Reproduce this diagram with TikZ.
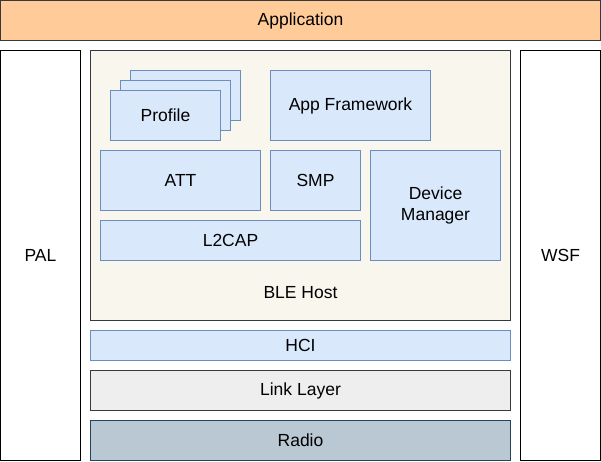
\documentclass[tikz,border=0pt]{standalone}
\usepackage{fontspec}
\setmainfont{Liberation Sans}
\definecolor{blockfill}{HTML}{DAE8FC}
\definecolor{blockline}{HTML}{6C8EBF}
\definecolor{darkline}{HTML}{36393D}
\definecolor{appfill}{HTML}{FFCC99}
\definecolor{hostfill}{HTML}{F9F7ED}
\definecolor{linkfill}{HTML}{EEEEEE}
\definecolor{radiofill}{HTML}{BAC8D3}
\definecolor{radioline}{HTML}{23445D}
\begin{document}
\begin{tikzpicture}[x=1pt,y=-1pt,
        font=\fontsize{17.5}{21}\selectfont,
        layer/.style={draw,line width=1pt,inner sep=0pt,align=center},
        block/.style={layer,draw=blockline,fill=blockfill}]
                \useasboundingbox (0,0) rectangle (601,461);
                \node[layer,draw=darkline,fill=appfill,minimum width=600pt,minimum height=40pt] (app) at (300.5,20.5) {Application};
                \node[layer,draw=black,fill=white,minimum width=80pt,minimum height=410pt] (pal) at (40.5,255.5) {PAL};
                \node[layer,draw=black,fill=white,minimum width=80pt,minimum height=410pt] (wsf) at (560.5,255.5) {WSF};
                \node[layer,draw=darkline,fill=hostfill,minimum width=420pt,minimum height=270pt] (host) at (300.5,185.5) {};
                \node (hostlabel) at (300.5,293) {BLE Host};
                \node[block,minimum width=110pt,minimum height=50pt] (profile3) at (185.5,95.5) {};
                \node[block,minimum width=110pt,minimum height=50pt] (profile2) at (175.5,105.5) {};
                \node[block,minimum width=110pt,minimum height=50pt] (profile) at (165.5,115.5) {Profile};
                \node[block,minimum width=160pt,minimum height=70pt] (appfw) at (350.5,105.5) {App Framework};
                \node[block,minimum width=160pt,minimum height=60pt] (att) at (180.5,180.5) {ATT};
                \node[block,minimum width=90pt,minimum height=60pt] (smp) at (315.5,180.5) {SMP};
                \node[block,minimum width=130pt,minimum height=110pt] (devmgr) at (435.5,205.5) {Device\\Manager};
                \node[block,minimum width=260pt,minimum height=40pt] (l2cap) at (230.5,240.5) {L2CAP};
                \node[block,minimum width=420pt,minimum height=30pt] (hci) at (300.5,345.5) {HCI};
                \node[layer,draw=darkline,fill=linkfill,minimum width=420pt,minimum height=40pt] (link) at (300.5,390.5) {Link Layer};
                \node[layer,draw=radioline,fill=radiofill,minimum width=420pt,minimum height=40pt] (radio) at (300.5,440.5) {Radio};
            \end{tikzpicture}
\end{document}
